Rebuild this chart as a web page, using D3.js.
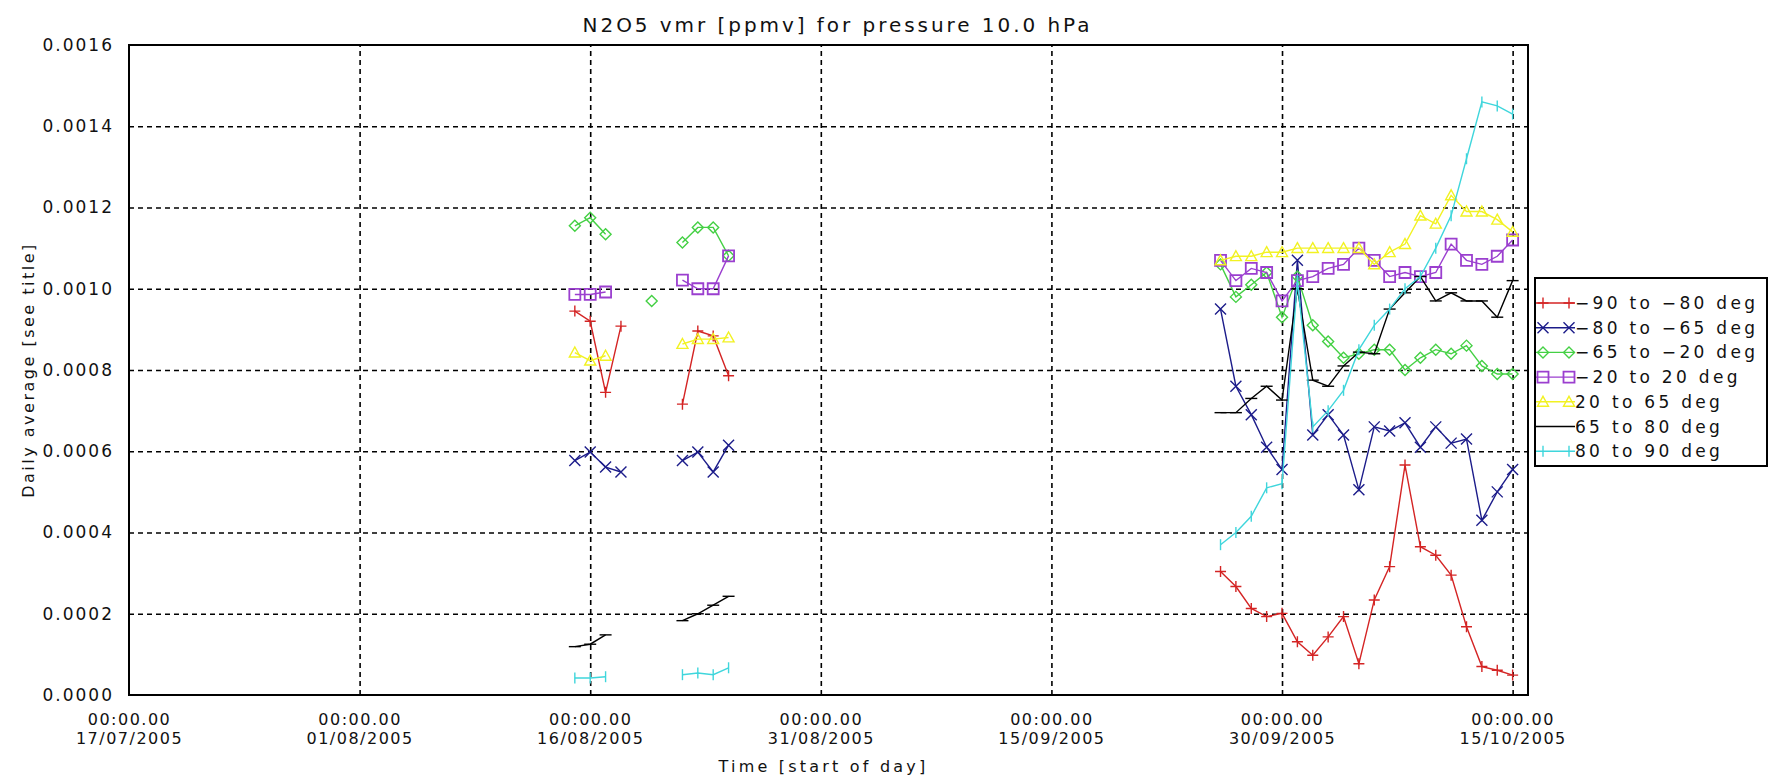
<!DOCTYPE html>
<html>
<head>
<meta charset="utf-8">
<title>N2O5 vmr</title>
<script src="https://cdn.jsdelivr.net/npm/d3@7"></script>
<style>
  body { margin: 0; background: #fff; }
  svg { display: block; font-family: "DejaVu Sans", sans-serif; }
</style>
</head>
<body>
<svg id="chart"></svg>
<script>
const WIDTH = 1782
const HEIGHT = 782
const PLOT = { left: 129, right: 1528, top: 45, bottom: 695 }

// days with data (dd/mm/yyyy)
const dates = [
  "15/08/2005", "16/08/2005", "17/08/2005", "18/08/2005", "20/08/2005",
  "22/08/2005", "23/08/2005", "24/08/2005", "25/08/2005",
  "26/09/2005", "27/09/2005", "28/09/2005", "29/09/2005", "30/09/2005",
  "01/10/2005", "02/10/2005", "03/10/2005", "04/10/2005", "05/10/2005",
  "06/10/2005", "07/10/2005", "08/10/2005", "09/10/2005", "10/10/2005",
  "11/10/2005", "12/10/2005", "13/10/2005", "14/10/2005", "15/10/2005"
]

const band90to80S = [0.000945, 0.00092, 0.000745, 0.000908, null,
  0.000716, 0.000896, 0.000884, 0.000786,
  0.000304, 0.000267, 0.000213, 0.000193, 0.000201, 0.000131, 0.000098, 0.000143, 0.000193, 0.000077,
  0.000234, 0.000316, 0.000566, 0.000365, 0.000344, 0.000295, 0.000168, 0.00007, 0.000061, 0.000049]
const band80to65S = [0.000577, 0.000598, 0.000561, 0.000549, null,
  0.000577, 0.000598, 0.000549, 0.000615,
  0.00095, 0.00076, 0.00069, 0.00061, 0.000555, 0.00107, 0.00064, 0.00069, 0.00064, 0.000505,
  0.00066, 0.00065, 0.00067, 0.00061, 0.00066, 0.00062, 0.00063, 0.00043, 0.0005, 0.000555]
const band65to20S = [0.001155, 0.001175, 0.001134, null, 0.00097,
  0.001114, 0.001151, 0.001151, 0.001081,
  0.00106, 0.00098, 0.00101, 0.00104, 0.00093, 0.00103, 0.00091, 0.00087, 0.00083, 0.00084,
  0.00085, 0.00085, 0.0008, 0.00083, 0.00085, 0.00084, 0.00086, 0.00081, 0.00079, 0.00079]
const band20Sto20N = [0.000986, 0.000986, 0.000992, null, null,
  0.001021, 0.0010, 0.0010, 0.001081,
  0.00107, 0.00102, 0.00105, 0.00104, 0.00097, 0.00102, 0.00103, 0.00105, 0.00106, 0.0011,
  0.00107, 0.00103, 0.00104, 0.00103, 0.00104, 0.00111, 0.00107, 0.00106, 0.00108, 0.00112]
const band20to65N = [0.000843, 0.000823, 0.000835, null, null,
  0.000864, 0.000876, 0.000876, 0.00088,
  0.00107, 0.00108, 0.00108, 0.00109, 0.00109, 0.0011, 0.0011, 0.0011, 0.0011, 0.0011,
  0.00106, 0.00109, 0.00111, 0.00118, 0.00116, 0.00123, 0.00119, 0.00119, 0.00117, 0.00114]
const band65to80N = [0.000119, 0.000125, 0.000148, null, null,
  0.000183, 0.0002, 0.000221, 0.000243,
  0.000695, 0.000695, 0.00073, 0.00076, 0.000726, 0.001, 0.000775, 0.00076, 0.00081, 0.000844,
  0.00084, 0.00095, 0.00099, 0.00103, 0.00097, 0.00099, 0.00097, 0.00097, 0.00093, 0.00102]
const band80to90N = [0.000042, 0.000042, 0.000045, null, null,
  0.00005, 0.000054, 0.00005, 0.000067,
  0.00037, 0.0004, 0.00044, 0.00051, 0.00052, 0.00102, 0.00066, 0.0007, 0.00075, 0.00085,
  0.00091, 0.00095, 0.001, 0.00103, 0.0011, 0.00118, 0.00132, 0.00146, 0.00145, 0.00143]

const seriesNames = ["\u221290 to \u221280 deg", "\u221280 to \u221265 deg", "\u221265 to \u221220 deg",
  "\u221220 to 20 deg", "20 to 65 deg", "65 to 80 deg", "80 to 90 deg"]
const seriesValues = [band90to80S, band80to65S, band65to20S, band20Sto20N, band20to65N, band65to80N, band80to90N]
const seriesColors = ["#d42424", "#1c1c8a", "#44d044", "#9b3fcf", "#f2f222", "#000000", "#3fd6dc"]
const seriesMarkers = ["plus", "cross", "diamond", "square", "triangle", "hbar", "vbar"]

const xTickDates = ["17/07/2005", "01/08/2005", "16/08/2005", "31/08/2005", "15/09/2005", "30/09/2005", "15/10/2005"]
const yTicks = [0, 0.0002, 0.0004, 0.0006, 0.0008, 0.0010, 0.0012, 0.0014, 0.0016]

const parse = d3.utcParse("%d/%m/%Y")
const DAY = 86400000

function markerPath(type) {
  const s = 5.5
  if (type == "plus") return `M${-s},0H${s}M0,${-s}V${s}`
  if (type == "cross") return `M${-s},${-s}L${s},${s}M${-s},${s}L${s},${-s}`
  if (type == "diamond") return `M0,${-s}L${s},0L0,${s}L${-s},0Z`
  if (type == "square") return `M${-s},${-s}H${s}V${s}H${-s}Z`
  if (type == "triangle") return `M0,${-s}L${s},${s * 0.8}L${-s},${s * 0.8}Z`
  if (type == "hbar") return `M${-6},0H${6}`
  if (type == "vbar") return `M0,${-s}V${s}`
  return ""
}

function main() {
  let svg = d3.select("#chart").attr("width", WIDTH).attr("height", HEIGHT)
  svg.append("rect").attr("width", WIDTH).attr("height", HEIGHT).attr("fill", "#fff")

  let x = d3.scaleUtc()
    .domain([parse("17/07/2005"), parse("16/10/2005")])
    .range([PLOT.left, PLOT.right])
  let y = d3.scaleLinear()
    .domain([0, 0.0016])
    .range([PLOT.bottom, PLOT.top])

  // grid
  let innerX = xTickDates.slice(1).map(parse)
  let innerY = yTicks.slice(1, -1)
  svg.append("g")
    .attr("transform", `translate(0,${PLOT.bottom})`)
    .call(d3.axisBottom(x).tickValues(innerX).tickSize(-(PLOT.bottom - PLOT.top)).tickFormat(""))
    .call(g => g.select(".domain").remove())
    .selectAll("line").attr("stroke", "#000").attr("stroke-width", 1.6).attr("stroke-dasharray", "5,4")
  svg.append("g")
    .attr("transform", `translate(${PLOT.left},0)`)
    .call(d3.axisLeft(y).tickValues(innerY).tickSize(-(PLOT.right - PLOT.left)).tickFormat(""))
    .call(g => g.select(".domain").remove())
    .selectAll("line").attr("stroke", "#000").attr("stroke-width", 1.6).attr("stroke-dasharray", "5,4")

  // y labels
  let yAxis = svg.append("g")
    .attr("transform", `translate(${PLOT.left},0)`)
    .call(d3.axisLeft(y).tickValues(yTicks).tickSize(0).tickPadding(15).tickFormat(d3.format(".4f")))
  yAxis.select(".domain").remove()
  yAxis.selectAll("text")
    .attr("font-size", 17).attr("font-family", "DejaVu Sans").attr("letter-spacing", 2).attr("fill", "#111")

  // x labels, two lines
  let xAxis = svg.append("g")
    .attr("transform", `translate(0,${PLOT.bottom})`)
    .call(d3.axisBottom(x).tickValues(xTickDates.map(parse)).tickSize(0).tickFormat(""))
  xAxis.select(".domain").remove()
  xAxis.selectAll(".tick text").remove()
  let tickFmt = d3.utcFormat("%d/%m/%Y")
  xAxis.selectAll(".tick").append("text")
    .attr("font-size", 16).attr("font-family", "DejaVu Sans").attr("letter-spacing", 1.5)
    .attr("fill", "#111").attr("text-anchor", "middle")
    .each(function(d) {
      let t = d3.select(this)
      t.append("tspan").attr("x", 0).attr("y", 30).text("00:00.00")
      t.append("tspan").attr("x", 0).attr("y", 49).text(tickFmt(d))
    })

  // series
  let points = seriesValues.map(vals => {
    let pts = []
    vals.forEach((v, i) => {
      let t = parse(dates[i])
      if (pts.length && pts[pts.length - 1] && v != null && (t - pts[pts.length - 1].t) > 1.5 * DAY) pts.push(null)
      pts.push(v == null ? null : { t: t, v: v })
    })
    return pts
  })

  let line = d3.line()
    .defined(d => d != null)
    .x(d => x(d.t))
    .y(d => y(d.v))

  let plotArea = svg.append("g")
  seriesValues.forEach((vals, k) => {
    plotArea.append("path")
      .datum(points[k])
      .attr("fill", "none")
      .attr("stroke", seriesColors[k])
      .attr("stroke-width", 1.4)
      .attr("d", line)
    plotArea.append("g").selectAll("path")
      .data(points[k].filter(d => d != null))
      .enter()
      .append("path")
      .attr("transform", d => `translate(${x(d.t)},${y(d.v)})`)
      .attr("d", markerPath(seriesMarkers[k]))
      .attr("fill", "none")
      .attr("stroke", seriesColors[k])
      .attr("stroke-width", seriesMarkers[k] == "square" ? 1.8 : 1.4)
  })

  // frame
  svg.append("rect")
    .attr("x", PLOT.left).attr("y", PLOT.top)
    .attr("width", PLOT.right - PLOT.left).attr("height", PLOT.bottom - PLOT.top)
    .attr("fill", "none").attr("stroke", "#000").attr("stroke-width", 2)

  // titles
  svg.append("text")
    .attr("x", (PLOT.left + PLOT.right) / 2 + 9).attr("y", 25)
    .attr("text-anchor", "middle").attr("dominant-baseline", "central")
    .attr("font-size", 20).attr("letter-spacing", 2.95).attr("fill", "#111")
    .text("N2O5 vmr [ppmv] for pressure 10.0 hPa")
  svg.append("text")
    .attr("x", (PLOT.left + PLOT.right) / 2 - 5).attr("y", 766)
    .attr("text-anchor", "middle").attr("dominant-baseline", "central")
    .attr("font-size", 16).attr("letter-spacing", 3.2).attr("fill", "#111")
    .text("Time [start of day]")
  svg.append("text")
    .attr("transform", `translate(28,${(PLOT.top + PLOT.bottom) / 2}) rotate(-90)`)
    .attr("text-anchor", "middle").attr("dominant-baseline", "central")
    .attr("font-size", 16).attr("letter-spacing", 2.5).attr("fill", "#111")
    .text("Daily average [see title]")

  // legend
  const LEG = { x: 1535, y: 278, w: 232, h: 188, row0: 303, step: 24.7 }
  let legend = svg.append("g")
  legend.append("rect")
    .attr("x", LEG.x).attr("y", LEG.y).attr("width", LEG.w).attr("height", LEG.h)
    .attr("fill", "#fff").attr("stroke", "#000").attr("stroke-width", 2)
  seriesNames.forEach((name, k) => {
    let ry = LEG.row0 + k * LEG.step
    let row = legend.append("g").attr("transform", `translate(${LEG.x},${ry})`)
    row.append("line").attr("x1", 1).attr("x2", 40).attr("y1", 0).attr("y2", 0)
      .attr("stroke", seriesColors[k]).attr("stroke-width", 1.4)
    if (seriesMarkers[k] != "hbar") {
      [8, 34].forEach(mx => {
        row.append("path").attr("transform", `translate(${mx},0)`)
          .attr("d", markerPath(seriesMarkers[k]))
          .attr("fill", "none").attr("stroke", seriesColors[k])
          .attr("stroke-width", seriesMarkers[k] == "square" ? 1.8 : 1.4)
      })
    }
    row.append("text").attr("x", 40).attr("y", 0)
      .attr("dominant-baseline", "central")
      .attr("font-size", 17).attr("letter-spacing", 3.3).attr("fill", "#111")
      .text(name)
  })
}

main()
</script>
</body>
</html>
